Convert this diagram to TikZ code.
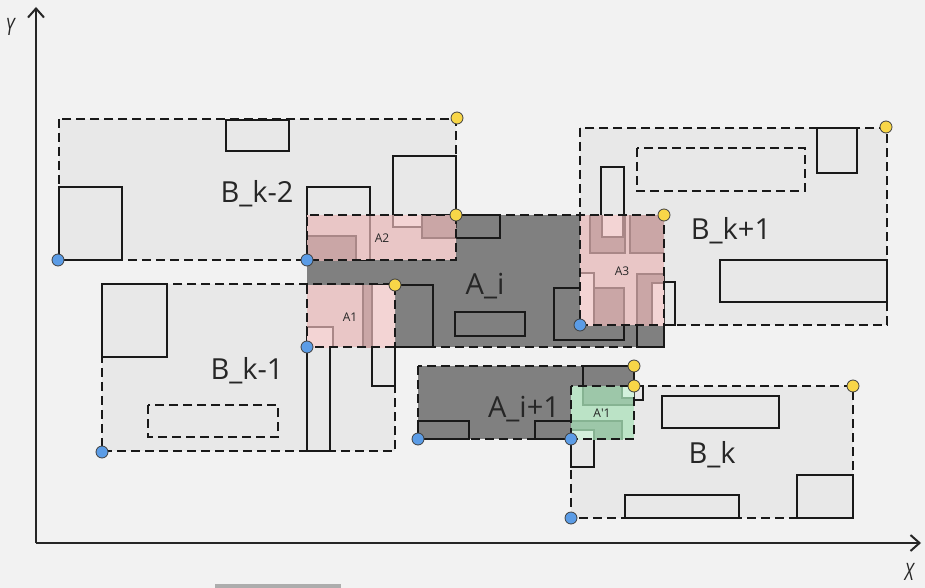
\documentclass[tikz,border=0pt]{standalone}
\usepackage{fontspec}
\setmainfont{Open Sans}
\usetikzlibrary{arrows.meta}
\definecolor{bgc}{HTML}{F2F2F2}
\definecolor{bfill}{HTML}{E8E8E8}
\definecolor{afill}{HTML}{808080}
\definecolor{pbase}{HTML}{E9C6C6}
\definecolor{plight}{HTML}{F3D4D4}
\definecolor{pdark}{HTML}{CAA6A6}
\definecolor{pedge}{HTML}{A98787}
\definecolor{gbase}{HTML}{BBE3C6}
\definecolor{glight}{HTML}{D3F1DC}
\definecolor{gdark}{HTML}{9DC7A9}
\definecolor{gedge}{HTML}{86B392}
\definecolor{dotb}{HTML}{5B9CE6}
\definecolor{doty}{HTML}{F8D648}
\definecolor{barc}{HTML}{ADADAD}

\begin{document}
\begin{tikzpicture}[x=1pt,y=-1pt,>={Straight Barb[length=9pt,width=16pt]},
    zone/.style={draw=black!90,line width=2.6pt,dash pattern=on 9pt off 5pt},
    obj/.style={draw=black!90,line width=2.8pt},
    dpatch/.style={fill=pdark,draw=pedge,line width=2pt},
    lpatch/.style={fill=plight,draw=pedge,line width=2pt},
    gdpatch/.style={fill=gdark,draw=gedge,line width=2pt},
    glpatch/.style={fill=glight,draw=gedge,line width=2pt},
    bdot/.style={circle,fill=dotb,draw=black!75,line width=0.8pt,inner sep=0pt,minimum size=12pt},
    ydot/.style={circle,fill=doty,draw=black!75,line width=0.8pt,inner sep=0pt,minimum size=12pt},
    bigtext/.style={anchor=base,text=black!85,font=\fontsize{29}{30}\selectfont},
    smalltext/.style={text=black!85,font=\fontsize{12}{12}\selectfont},
    axtext/.style={text=black!85,xscale=0.72,font=\itshape\fontsize{24}{24}\selectfont}]
    \useasboundingbox (0,0) rectangle (925,588);
    \fill[bgc] (0,0) rectangle (925,588);
    \fill[barc] (215,584) rectangle (341,588);
    % Zone
    \fill[bfill] (59,119) rectangle (456,260);
    \fill[bfill] (102,284) rectangle (395,451);
    \fill[bfill] (580,128) rectangle (887,325);
    \fill[bfill] (571,386) rectangle (853,518);
    \fill[afill] (307,215) rectangle (664,347);
    \fill[afill] (418,366) rectangle (634,439);
    % Oggetti
    \draw[obj] (226,120) rectangle (289,151);
    \draw[obj] (59,187) rectangle (122,260);
    \draw[obj] (307,187) rectangle (370,260);
    \draw[obj] (393,156) rectangle (456,227);
    \draw[obj] (422,215) rectangle (500,238);
    \draw[obj] (455,312) rectangle (525,336);
    \draw[obj] (372,285) -- (433,285) -- (433,347) -- (395,347) -- (395,386) -- (372,386) -- cycle;
    \draw[obj] (307,327) rectangle (330,451);
    \draw[obj] (554,288) rectangle (624,340);
    \draw[obj] (637,274) rectangle (664,347);
    \draw[obj] (601,167) rectangle (624,237);
    \draw[zone] (637,148) rectangle (805,191);
    \draw[obj] (817,128) rectangle (857,173);
    \draw[obj] (720,260) rectangle (887,302);
    \draw[obj] (651,282) rectangle (675,325);
    \draw[obj] (102,284) rectangle (167,357);
    \draw[zone] (148,405) rectangle (278,437);
    \draw[obj] (418,421) rectangle (469,439);
    \draw[obj] (535,421) rectangle (622,439);
    \draw[obj] (583,366) rectangle (634,405);
    \draw[obj] (622,386) rectangle (643,400);
    \draw[obj] (662,396) rectangle (779,428);
    \draw[obj] (625,495) rectangle (739,518);
    \draw[obj] (797,475) rectangle (853,518);
    \draw[obj] (571,430) rectangle (594,467);
    % Intersezioni
    \begin{scope}
        \clip (307,215) rectangle (456,260);
        \fill[pbase] (307,215) rectangle (456,260);
        \draw[pedge,line width=2pt] (370,205) -- (370,265);
        \draw[lpatch] (393,200) rectangle (456,227);
        \draw[dpatch] (422,205) rectangle (500,238);
        \draw[dpatch] (300,236) rectangle (356,265);
    \end{scope}
    \begin{scope}
        \clip (307,285) rectangle (395,347);
        \fill[pbase] (307,285) rectangle (395,347);
        \draw[dpatch] (363,280) rectangle (372,352);
        \draw[lpatch] (372,280) rectangle (433,352);
        \draw[lpatch] (300,327) rectangle (333,352);
    \end{scope}
    \begin{scope}
        \clip (580,215) rectangle (664,325);
        \fill[pbase] (580,215) rectangle (664,325);
        \draw[dpatch] (590,205) rectangle (625,253);
        \draw[lpatch] (602,160) rectangle (623,237);
        \draw[dpatch] (630,205) rectangle (670,253);
        \draw[dpatch] (554,288) rectangle (624,340);
        \draw[lpatch] (575,273) rectangle (594,330);
        \draw[dpatch] (637,274) rectangle (670,347);
        \draw[lpatch] (652,283) rectangle (675,330);
    \end{scope}
    \begin{scope}
        \clip (571,386) rectangle (634,439);
        \fill[gbase] (571,386) rectangle (634,439);
        \draw[gdpatch] (583,360) rectangle (640,405);
        \draw[glpatch] (622,380) rectangle (643,398);
        \draw[gdpatch] (535,421) rectangle (622,445);
        \draw[glpatch] (571,430) rectangle (594,467);
    \end{scope}
    % Bordi tratteggiati
    \draw[zone] (59,119) rectangle (456,260);
    \draw[zone] (102,284) rectangle (395,451);
    \draw[zone] (580,128) rectangle (887,325);
    \draw[zone] (571,386) rectangle (853,518);
    \draw[zone] (307,285) -- (307,347) -- (664,347) -- (664,215) -- (307,215) -- (307,260);
    \draw[zone] (418,366) rectangle (634,439);
    % Assi
    \coordinate (o) at (36,543);
    \coordinate (xend) at (921,543);
    \coordinate (yend) at (36,7);
    \draw[->,line width=2pt,black!85] (o) -- (xend);
    \draw[->,line width=2pt,black!85] (o) -- (yend);
    \node[axtext] (xlab) at (909,572) {X};
    \node[axtext] (ylab) at (10,27) {Y};
    % Punti
    \node[bdot] (bl1) at (58,260) {};
    \node[bdot] (bl2) at (307,260) {};
    \node[bdot] (bl3) at (307,347) {};
    \node[bdot] (bl4) at (102,452) {};
    \node[bdot] (bl5) at (580,325) {};
    \node[bdot] (bl6) at (418,439) {};
    \node[bdot] (bl7) at (571,439) {};
    \node[bdot] (bl8) at (571,518) {};
    \node[ydot] (tr1) at (457,118) {};
    \node[ydot] (tr2) at (456,215) {};
    \node[ydot] (tr3) at (395,285) {};
    \node[ydot] (tr4) at (664,215) {};
    \node[ydot] (tr5) at (886,127) {};
    \node[ydot] (tr6) at (634,366) {};
    \node[ydot] (tr7) at (634,386) {};
    \node[ydot] (tr8) at (853,386) {};
    % Etichette
    \node[bigtext] (lbk2) at (257,202) {B\_k-2};
    \node[bigtext] (lbk1) at (247,379) {B\_k-1};
    \node[bigtext] (lbkp) at (731,239) {B\_k+1};
    \node[bigtext] (lbk) at (712,463) {B\_k};
    \node[bigtext] (lai) at (485,294) {A\_i};
    \node[bigtext] (laip) at (524,417) {A\_i+1};
    \node[smalltext] (la1) at (350,317) {A1};
    \node[smalltext] (la2) at (382,238) {A2};
    \node[smalltext] (la3) at (622,271) {A3};
    \node[smalltext] (la1p) at (602,413) {A\textquotesingle 1};
\end{tikzpicture}
\end{document}
